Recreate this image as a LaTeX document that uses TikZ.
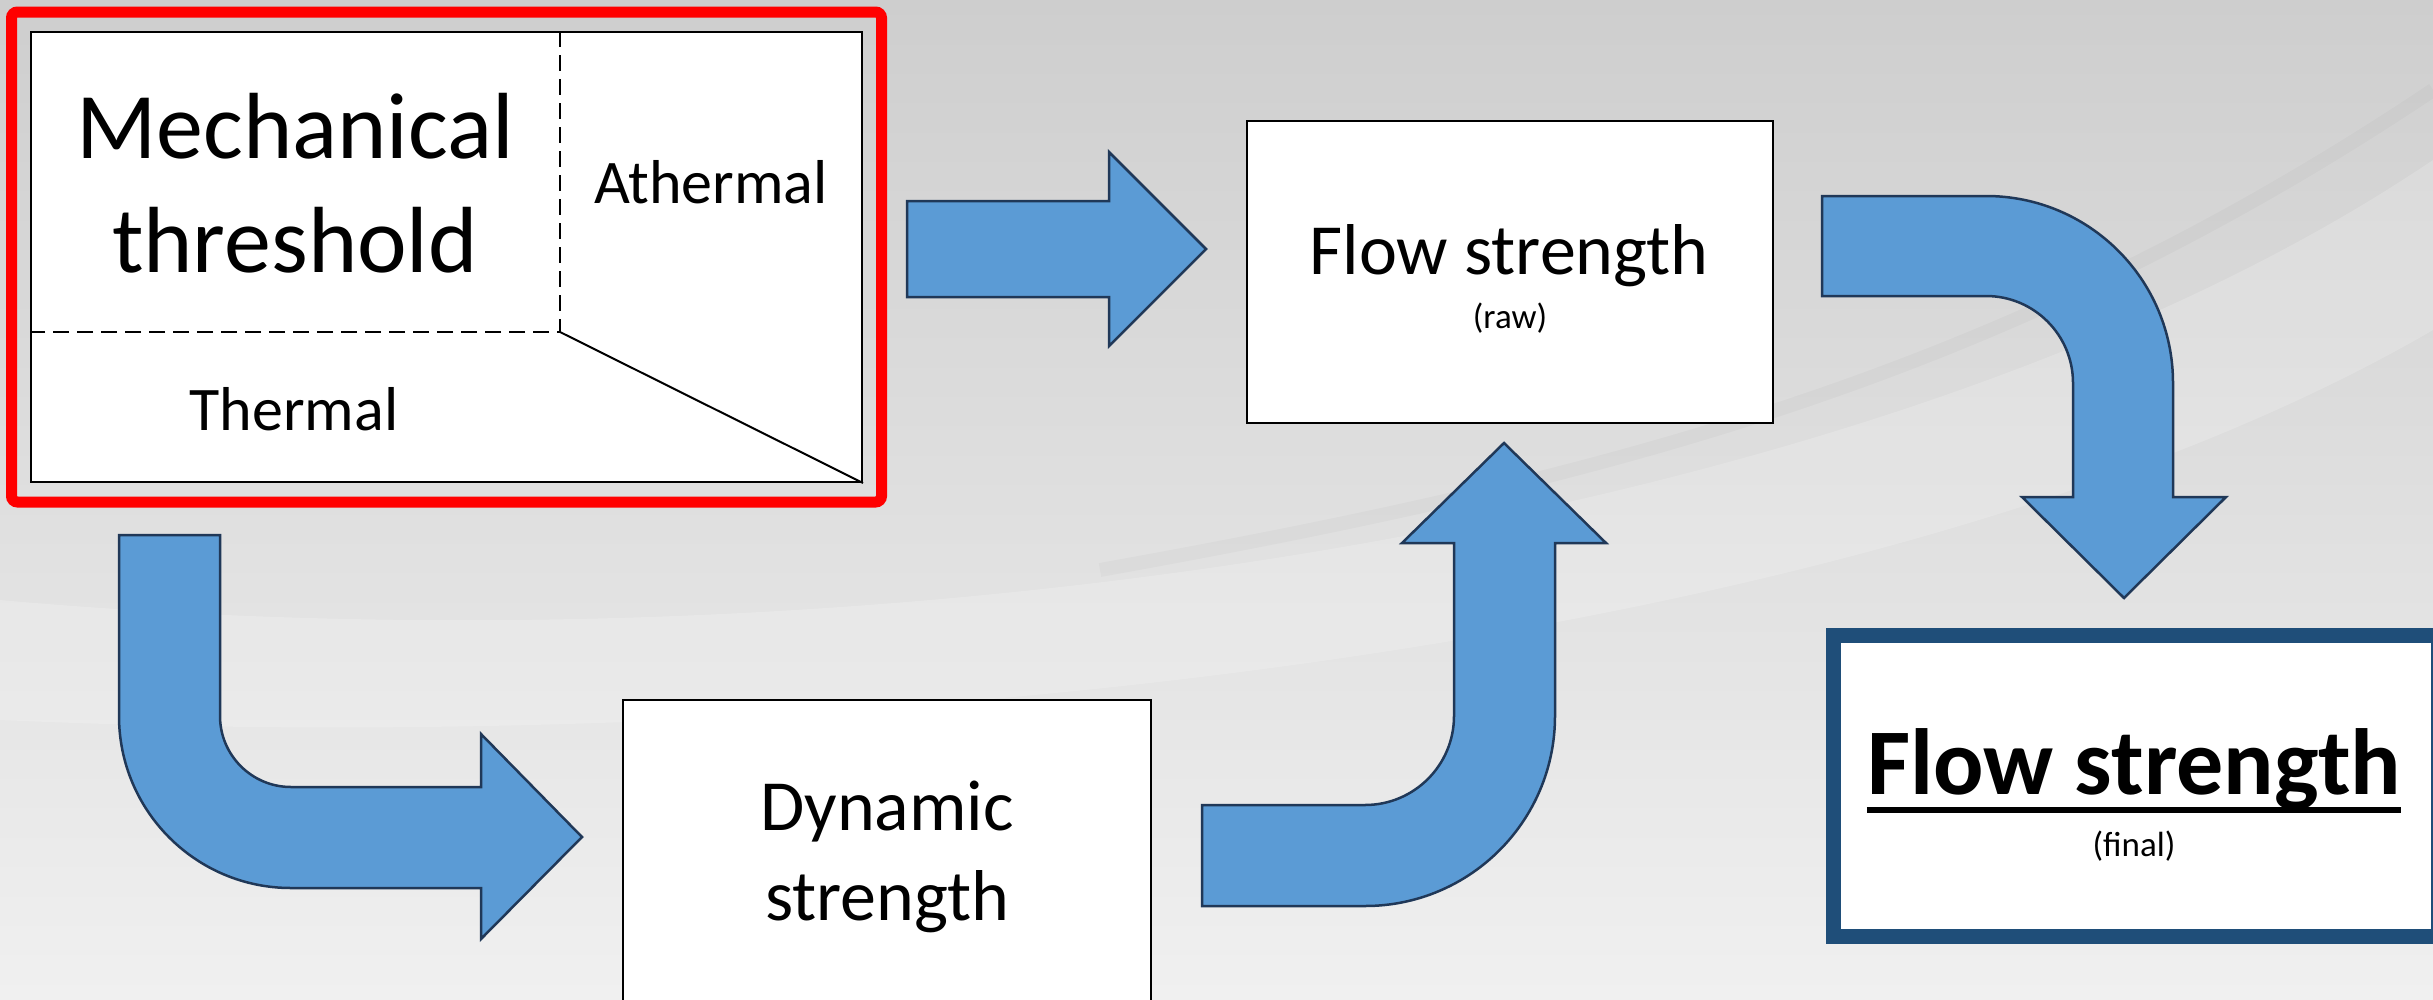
\documentclass[tikz,border=0pt]{standalone}
\usepackage{fontspec}
\setmainfont{Carlito}
\usetikzlibrary{calc}

\definecolor{arrowfill}{RGB}{91,155,213}
\definecolor{arrowline}{RGB}{32,56,88}
\definecolor{finalblue}{RGB}{31,78,121}
\definecolor{bgtop}{RGB}{206,206,206}
\definecolor{bgbottom}{RGB}{240,240,240}

\tikzset{
  panel/.style = {draw = black, line width = 2, fill = white, inner sep = 0},
  blockarrow/.style = {fill = arrowfill, draw = arrowline, line width = 2.5, line join = miter},
  txt/.style = {inner sep = 0, anchor = base},
  hugetext/.style = {txt, font = \fontsize{94}{113}\selectfont},
  bigtext/.style = {txt, font = \fontsize{72}{86}\selectfont},
  midtext/.style = {txt, font = \fontsize{62}{74}\selectfont},
  smalltext/.style = {txt, font = \fontsize{35}{42}\selectfont},
}

\begin{document}
\begin{tikzpicture}[x = 1pt, y = -1pt]
\useasboundingbox (0, 0) rectangle (2433, 999);
\clip (0, 0) rectangle (2433, 999);

% background
\shade[top color = bgtop, bottom color = bgbottom] (0, 0) rectangle (2433, 999);
\fill[white, opacity = 0.18] (0, 600) .. controls (900, 680) and (1900, 520) .. (2433, 160) -- (2433, 330) .. controls (1900, 640) and (900, 760) .. (0, 720) -- cycle;
\draw[black, opacity = 0.025, line width = 14] (1100, 570) .. controls (1600, 480) and (2000, 380) .. (2433, 90);

% boxes
\node[panel, minimum width = 831, minimum height = 450] (mech) at (446.5, 257) {};
\node[draw = red, line width = 11, rounded corners = 6, minimum width = 870, minimum height = 490] (frame) at (mech) {};
\node[panel, minimum width = 526, minimum height = 302] (raw) at (1510, 272) {};
\node[panel, minimum width = 528, minimum height = 310] (dyn) at (887, 855) {};
\node[draw = finalblue, line width = 15, fill = white, minimum width = 605, minimum height = 301] (final) at (2135.5, 785.5) {};

% split of the threshold
\coordinate (split) at (560, 332);
\draw[line width = 2, dash pattern = on 16pt off 8pt] (split |- mech.north) -- (split) -- (split -| mech.west);
\draw[line width = 2] (split) -- (mech.south east);

% labels
\node[hugetext] (mecha) at (295, 158) {Mechanical};
\node[hugetext] (mechb) at (295, 272) {threshold};
\node[midtext] (ather) at (711, 203) {Athermal};
\node[midtext] (therm) at (294, 430) {Thermal};

\node[bigtext] (rawa) at (1509, 274) {Flow strength};
\node[smalltext] (rawb) at (1510, 328) {(raw)};

\node[bigtext] (dyna) at (887, 830) {Dynamic};
\node[bigtext] (dynb) at (887, 920) {strength};

\node[hugetext, font = \fontsize{94}{113}\selectfont\bfseries] (fina) at (2134, 794) {Flow strength};
\draw[line width = 6] ($(fina.base west) + (0, 16)$) -- ($(fina.base east) + (0, 16)$);
\node[smalltext] (finb) at (2134, 856) {(final)};

% arrows
\draw[blockarrow] (907, 201) -- (1109, 201) -- (1109, 152) -- (1206, 249) -- (1109, 346) -- (1109, 297) -- (907, 297) -- cycle;

\draw[blockarrow] (119, 535) -- (220, 535) -- (220, 716) arc[start angle = 180, end angle = 90, radius = 71]
  -- (481, 787) -- (481, 734) -- (582, 837) -- (481, 939) -- (481, 888)
  -- (291, 888) arc[start angle = 90, end angle = 180, radius = 172] -- cycle;

\draw[blockarrow] (1202, 805) -- (1365, 805) arc[start angle = 90, end angle = 0, radius = 89]
  -- (1454, 543) -- (1402, 543) -- (1504, 443) -- (1606, 543) -- (1555, 543)
  -- (1555, 716) arc[start angle = 0, end angle = 90, radius = 190] -- (1202, 906) -- cycle;

\draw[blockarrow] (1822, 196) -- (1986, 196) arc[start angle = -90, end angle = 0, radius = 187]
  -- (2173, 497) -- (2226, 497) -- (2124, 598) -- (2022, 497) -- (2073, 497)
  -- (2073, 383) arc[start angle = 0, end angle = -90, radius = 87] -- (1822, 296) -- cycle;

\end{tikzpicture}
\end{document}
